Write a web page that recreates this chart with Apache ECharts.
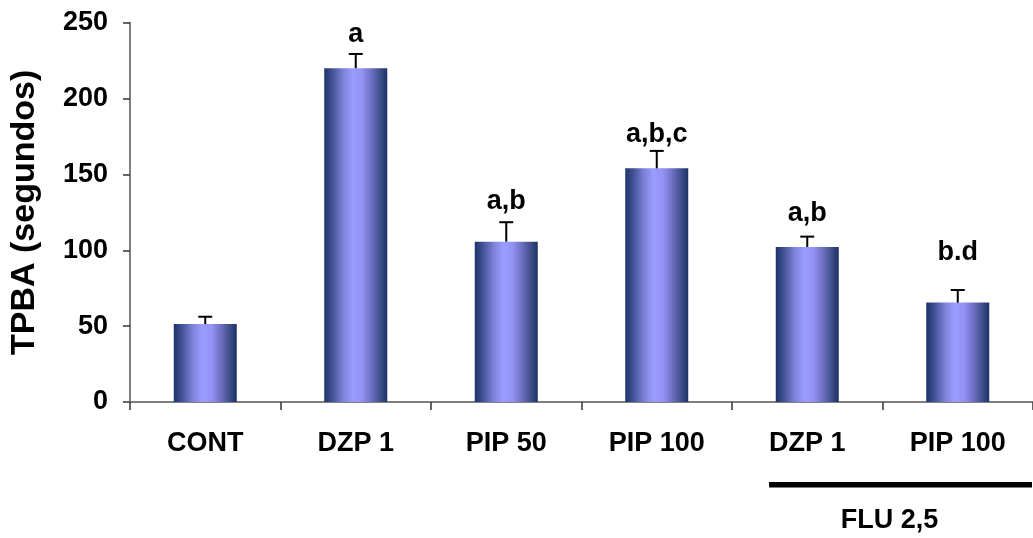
<!DOCTYPE html>
<html>
<head>
<meta charset="utf-8">
<script src="https://cdn.jsdelivr.net/npm/echarts@6/dist/echarts.min.js"></script>
<style>
html,body{margin:0;padding:0;background:#fff;}
#c{width:1033px;height:538px;}
</style>
</head>
<body>
<div id="c"></div>
<script>
var categories = ['CONT', 'DZP 1', 'PIP 50', 'PIP 100', 'DZP 1', 'PIP 100'];
var means = [51.4, 220, 105.7, 154, 102.2, 65.5];
var errUpper = [56.2, 229.4, 118.5, 165.5, 109, 73.8];
var sigLabels = ['', 'a', 'a,b', 'a,b,c', 'a,b', 'b.d'];
var labelBaseline = [0, 235, 125.2, 169.4, 117.3, 91.6];
var yTicks = [0, 50, 100, 150, 200, 250];
var groupLabel = 'FLU 2,5';

var chart = echarts.init(document.getElementById('c'), null, {renderer: 'canvas'});
var FONT = 'Liberation Sans, Arial, sans-serif';
var FS = 27;

var barGradient = new echarts.graphic.LinearGradient(0, 0, 1, 0, [
  {offset: 0, color: '#1c3468'},
  {offset: 0.12, color: '#3f4f92'},
  {offset: 0.3, color: '#7d82d8'},
  {offset: 0.45, color: '#9a9cff'},
  {offset: 0.6, color: '#9293f4'},
  {offset: 0.78, color: '#6468b6'},
  {offset: 0.92, color: '#35477f'},
  {offset: 1, color: '#1a3266'}
]);

var errData = categories.map(function (c, i) {
  return [i, means[i], errUpper[i], labelBaseline[i]];
});

var option = {
  animation: false,
  backgroundColor: '#ffffff',
  grid: {left: 130, top: 22.7, width: 912, bottom: 136, containLabel: false},
  xAxis: {
    type: 'category',
    data: categories,
    axisLine: {show: true, lineStyle: {color: '#7f7f7f', width: 2}},
    axisTick: {show: true, length: 8, lineStyle: {color: '#333', width: 1.5}},
    axisLabel: {color: '#000', fontFamily: FONT, fontWeight: 'bold', fontSize: FS, margin: 28}
  },
  yAxis: {
    type: 'value',
    min: 0, max: 250, interval: 50,
    name: 'TPBA (segundos)',
    nameLocation: 'middle',
    nameGap: 88,
    nameTextStyle: {color: '#000', fontFamily: FONT, fontWeight: 'bold', fontSize: 34},
    axisLine: {show: true, lineStyle: {color: '#7f7f7f', width: 2}},
    axisTick: {show: true, length: 7, lineStyle: {color: '#333', width: 1.5}},
    splitLine: {show: false},
    axisLabel: {
      color: '#000', fontFamily: FONT, fontWeight: 'bold', fontSize: FS, margin: 22,
      formatter: function (v) { return yTicks.indexOf(v) >= 0 ? String(v) : ''; }
    }
  },
  series: [
    {
      type: 'bar',
      data: means,
      barWidth: 63,
      itemStyle: {color: barGradient},
      z: 2
    },
    {
      type: 'custom',
      data: errData,
      z: 5,
      renderItem: function (params, api) {
        var i = api.value(0);
        var top = api.coord([i, api.value(1)]);
        var err = api.coord([i, api.value(2)]);
        var lab = api.coord([i, api.value(3)]);
        var half = 7;
        var children = [
          {type: 'line', shape: {x1: top[0], y1: top[1], x2: err[0], y2: err[1]}, style: {stroke: '#000', lineWidth: 2}},
          {type: 'line', shape: {x1: err[0] - half, y1: err[1], x2: err[0] + half, y2: err[1]}, style: {stroke: '#000', lineWidth: 2}}
        ];
        var t = sigLabels[params.dataIndex];
        if (t) {
          children.push({
            type: 'text',
            style: {
              text: t, x: lab[0], y: lab[1] + 3,
              textAlign: 'center', textVerticalAlign: 'bottom',
              font: 'bold ' + FS + 'px ' + FONT, fill: '#000'
            }
          });
        }
        return {type: 'group', children: children};
      }
    }
  ]
};
chart.setOption(option);

// Group bracket under the last two categories
var p4 = chart.convertToPixel({xAxisIndex: 0}, 4);
var p5 = chart.convertToPixel({xAxisIndex: 0}, 5);
var bandW = p5 - p4;
var x1 = p4 - bandW * 0.3 + 7;
var x2 = 1032;
chart.setOption({
  graphic: [
    {type: 'rect', shape: {x: x1, y: 482, width: x2 - x1, height: 5.5}, style: {fill: '#000'}},
    {type: 'text', style: {text: groupLabel, x: (p4 + p5) / 2 + 7, y: 521, textAlign: 'center', textVerticalAlign: 'middle', font: 'bold ' + FS + 'px ' + FONT, fill: '#000'}}
  ]
});
</script>
</body>
</html>
